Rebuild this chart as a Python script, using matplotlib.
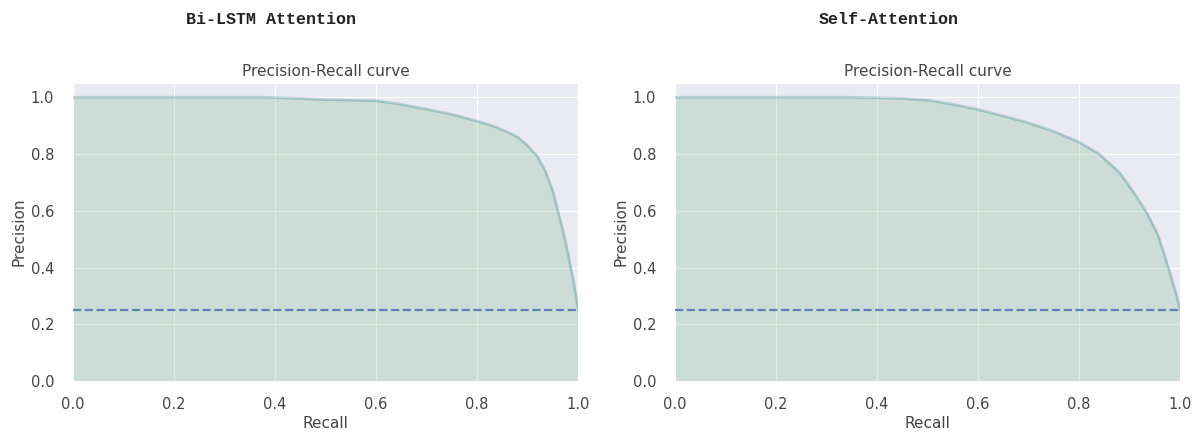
import matplotlib
matplotlib.use("Agg")
import matplotlib.pyplot as plt
import seaborn as sns

# PR curves
bilstm_recall = [0, 0.1, 0.2, 0.3, 0.38, 0.45, 0.5, 0.55, 0.6, 0.65, 0.7, 0.75, 0.8,
                 0.83, 0.86, 0.88, 0.9, 0.92, 0.935, 0.95, 0.96, 0.97, 0.98, 0.99, 0.995, 1.0]
bilstm_precision = [1.0, 1.0, 1.0, 1.0, 1.0, 0.996, 0.992, 0.99, 0.988, 0.975, 0.958, 0.94, 0.916,
                    0.9, 0.878, 0.86, 0.83, 0.79, 0.74, 0.67, 0.6, 0.53, 0.45, 0.36, 0.31, 0.25]

selfatt_recall = [0, 0.1, 0.2, 0.3, 0.35, 0.4, 0.45, 0.5, 0.55, 0.6, 0.65, 0.7, 0.75, 0.8,
                  0.84, 0.88, 0.91, 0.935, 0.955, 0.97, 0.985, 0.995, 1.0]
selfatt_precision = [1.0, 1.0, 1.0, 1.0, 1.0, 0.998, 0.996, 0.99, 0.975, 0.957, 0.934, 0.91, 0.88,
                     0.842, 0.80, 0.735, 0.66, 0.59, 0.52, 0.44, 0.35, 0.29, 0.25]

baseline = 0.25
models = ["Bi-LSTM Attention", "Self-Attention"]

sns.set_style("darkgrid")
sns.set_color_codes("deep")  # 'g' / 'b' -> seaborn deep colours

fig = plt.figure(figsize=(11.97, 4.34), dpi=100)
axes = [fig.add_axes([0.061, 0.122, 0.4219, 0.6866]),
        fig.add_axes([0.5639, 0.122, 0.4219, 0.6866])]
title_x = [271 / 1197, 889 / 1197]

for ax, name, rec, prec, tx in zip(axes, models,
                                   [bilstm_recall, selfatt_recall],
                                   [bilstm_precision, selfatt_precision],
                                   title_x):
    ax.fill_between(rec, prec, color="g", alpha=0.2, zorder=2)
    ax.plot(rec, prec, color="#4c8fa0", alpha=0.3, lw=2, zorder=3)
    ax.axhline(baseline, color="b", ls="--", lw=1.6, alpha=0.85, zorder=4)
    ax.set_xlim(0, 1.0)
    ax.set_ylim(0, 1.05)
    ax.set_xlabel("Recall", fontsize=11, color="#444444", labelpad=3)
    ax.set_ylabel("Precision", fontsize=11, color="#444444", labelpad=3)
    ax.set_title("Precision-Recall curve", fontsize=11, color="#444444", pad=5)
    ax.tick_params(axis="x", labelsize=10.5, colors="#444444", pad=8)
    ax.tick_params(axis="y", labelsize=10.5, colors="#444444", pad=10)
    fig.text(tx, 0.954, name, ha="center", va="center", family="Liberation Mono",
             fontweight="bold", fontsize=12, color="#222222")

fig.savefig("out.png", dpi=100)
